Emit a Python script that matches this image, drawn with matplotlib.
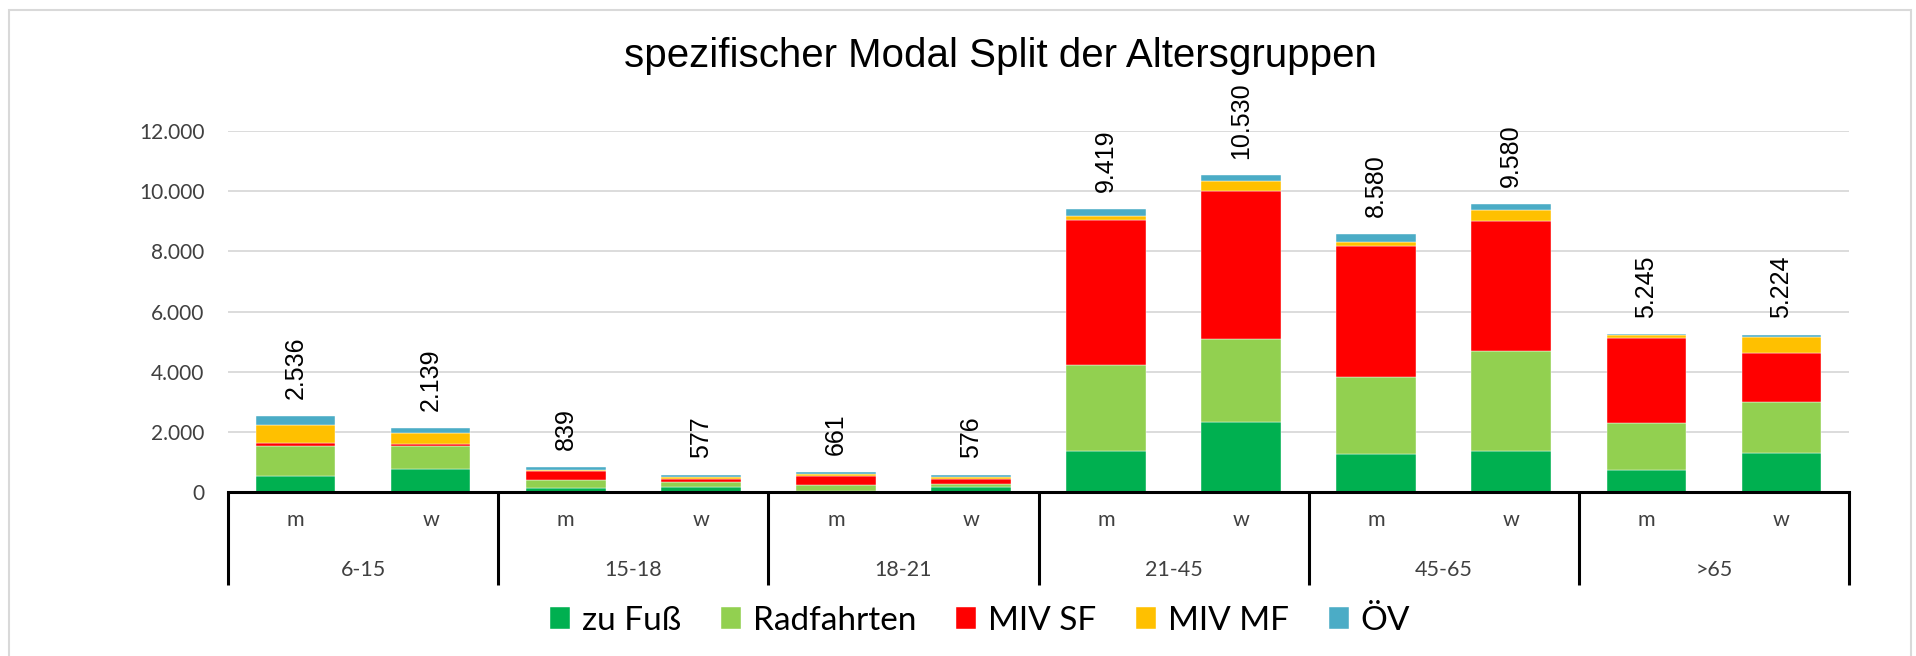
import matplotlib
matplotlib.use("Agg")
import matplotlib.pyplot as plt
import numpy as np
from matplotlib.patches import Rectangle

# Daten: Wege je Altersgruppe und Geschlecht
groups = ['6-15', '15-18', '18-21', '21-45', '45-65', '>65']
sexes = ['m', 'w']
modes = ['zu Fuß', 'Radfahrten', 'MIV SF', 'MIV MF', 'ÖV']
colors = ['#00B050', '#92D050', '#FF0000', '#FFC000', '#4BACC6']

zu_fuss = [540, 750, 120, 155, 40, 157, 1347, 2342, 1260, 1347, 717, 1313]
radfahrten = [1005, 776, 278, 189, 180, 110, 2865, 2733, 2554, 3340, 1592, 1692]
miv_sf = [90, 86, 285, 77, 320, 177, 4819, 4928, 4365, 4334, 2809, 1615]
miv_mf = [587, 345, 57, 88, 55, 55, 156, 332, 133, 342, 90, 531]
oev = [314, 182, 99, 68, 66, 77, 232, 195, 268, 217, 37, 73]

series = [zu_fuss, radfahrten, miv_sf, miv_mf, oev]


def de_fmt(v):
    return f"{v:,.0f}".replace(',', '.')


fig = plt.figure(figsize=(19.16, 6.56), dpi=100)
ax = fig.add_axes([228 / 1916, 1 - 492 / 656, (1849 - 228) / 1916, (492 - 131) / 656])

x = np.arange(len(groups) * len(sexes))
bottom = np.zeros(len(x))
handles = []
for vals, col, lab in zip(series, colors, modes):
    b = ax.bar(x, vals, width=0.59, bottom=bottom, color=col, label=lab,
               edgecolor='white', linewidth=0.3, zorder=3)
    handles.append(b)
    bottom += np.array(vals)

# Summen über den Balken
for xi, tot in zip(x, bottom):
    ax.annotate(de_fmt(tot), xy=(xi, tot), xytext=(0, 12), textcoords='offset points',
                ha='center', va='bottom', rotation=90, fontsize=18,
                family='Liberation Sans', color='black')

ax.set_xlim(-0.5, len(x) - 0.5)
ax.set_ylim(0, 12000)
ax.set_yticks(np.arange(0, 12001, 2000))
ax.set_yticklabels([de_fmt(v) for v in np.arange(0, 12001, 2000)],
                   fontsize=15, family='Lato', color='#404040')
ax.yaxis.grid(True, color='#D9D9D9', linewidth=1.3, zorder=0)
ax.tick_params(axis='y', length=0, pad=17)

ax.set_xticks(x)
ax.set_xticklabels(sexes * len(groups), fontsize=15.5, family='Lato', color='#404040')
ax.tick_params(axis='x', length=0, pad=13)

for s in ['top', 'right', 'left']:
    ax.spines[s].set_visible(False)
ax.spines['bottom'].set_color('black')
ax.spines['bottom'].set_linewidth(2.2)
ax.spines['bottom'].set_zorder(4)

# mehrstufige Kategorienachse
sep_depth = -(585 - 492) / (492 - 131)
trans = ax.get_xaxis_transform()
for k in range(len(groups) + 1):
    xs = k * 2 - 0.5
    ax.plot([xs, xs], [0, sep_depth], transform=trans, color='black',
            linewidth=2.2, clip_on=False, solid_capstyle='butt')
for k, g in enumerate(groups):
    ax.text(k * 2 + 0.5, -(570 - 492) / (492 - 131), g, transform=trans,
            ha='center', va='center', fontsize=15.5, family='Lato', color='#404040')

fig.text(1000 / 1916, 1 - 56 / 656, 'spezifischer Modal Split der Altersgruppen',
         ha='center', va='center', fontsize=29, family='Liberation Sans', color='black')

fig.legend(handles=handles, labels=modes, loc='center', ncol=5,
           bbox_to_anchor=(980 / 1916, 1 - 621 / 656), frameon=False,
           prop={'family': 'Lato', 'size': 24},
           handlelength=0.6, handleheight=0.65, handletextpad=0.35,
           columnspacing=1.2)

fig.patches.append(Rectangle((9 / 1916, -0.05), (1911 - 9) / 1916, 1.05 - 10 / 656,
                             transform=fig.transFigure, fill=False,
                             edgecolor='#D9D9D9', linewidth=1.5))

fig.savefig('out.png', dpi=100)
